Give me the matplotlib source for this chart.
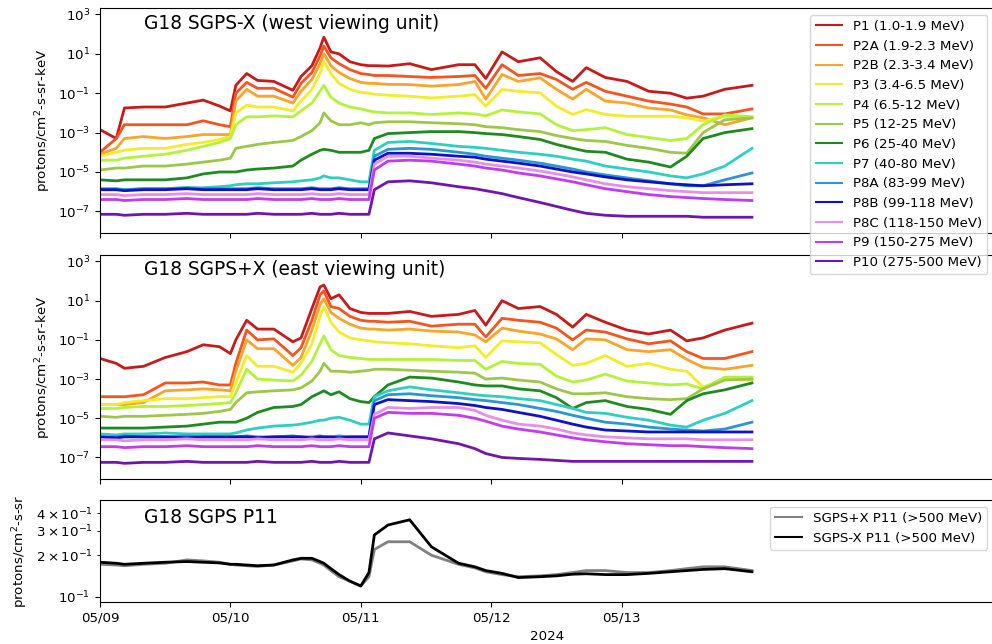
import matplotlib
matplotlib.use('Agg')
import matplotlib.pyplot as plt
import matplotlib.dates as mdates
from matplotlib.ticker import FixedLocator, FixedFormatter, NullLocator
import numpy as np
from datetime import datetime, timedelta

# sample times, hours after 2024-05-09 00:00
hours = [0, 3, 4.5, 8, 12, 16, 19, 22, 24,
         25, 27, 29, 32, 35.5, 37, 39, 40.5, 41.2, 42.5, 44, 46, 48, 49.5, 50.5, 53,
         57, 61, 66, 69, 71, 74, 77, 81, 84, 87, 89.5, 93, 97, 101, 105, 108, 111, 115, 120]

channels = ['P1 (1.0-1.9 MeV)', 'P2A (1.9-2.3 MeV)', 'P2B (2.3-3.4 MeV)', 'P3 (3.4-6.5 MeV)',
            'P4 (6.5-12 MeV)', 'P5 (12-25 MeV)', 'P6 (25-40 MeV)', 'P7 (40-80 MeV)',
            'P8A (83-99 MeV)', 'P8B (99-118 MeV)', 'P8C (118-150 MeV)', 'P9 (150-275 MeV)',
            'P10 (275-500 MeV)']
colors = ['#c81a1a', '#f5541e', '#fca32a', '#f2ec2a', '#b4f23a', '#9cc748', '#1f8a1f',
          '#2ecfc0', '#2a96d2', '#1010c8', '#e98ee6', '#c03cee', '#7015b0']

# log10 of flux, SGPS-X (west)
west_p1 = [-2.85, -3.3, -1.75, -1.7, -1.7, -1.5, -1.35, -1.65, -1.9,
           -0.6, 0.0, -0.35, -0.4, -0.85, -0.15, 0.4, 1.3, 1.85, 1.1, 1.0, 0.6, 0.45, 0.4, 0.4, 0.38,
           0.5, 0.2, 0.45, 0.45, -0.25, 1.1, 0.6, 0.8, 0.1, -0.4, 0.3, -0.2, -0.4, -0.9, -1.0, -1.25, -1.15, -0.8, -0.6]
west_p2a = [-4.0, -3.3, -2.6, -2.6, -2.6, -2.6, -2.4, -2.6, -2.7,
            -1.0, -0.45, -0.75, -0.75, -1.2, -0.5, 0.05, 0.9, 1.4, 0.8, 0.5, 0.2, 0.0, -0.05, -0.1, -0.1,
            -0.15, -0.2, -0.15, -0.1, -0.75, 0.45, -0.1, 0.0, -0.3, -0.8, -0.45, -0.9, -1.15, -1.4, -1.55, -1.7, -2.05, -2.05, -1.8]
west_p2b = [-4.1, -3.8, -3.3, -3.2, -3.3, -3.2, -3.1, -3.1, -3.1,
            -1.4, -0.8, -1.15, -1.15, -1.5, -0.9, -0.3, 0.5, 1.0, 0.4, 0.05, -0.25, -0.45, -0.5, -0.5, -0.55,
            -0.56, -0.64, -0.56, -0.4, -1.3, -0.05, -0.4, -0.22, -0.8, -1.3, -0.8, -1.4, -1.5, -1.75, -1.85, -2.1, -2.25, -2.6, -2.25]
west_p3 = [-4.2, -4.0, -3.9, -3.8, -3.8, -3.6, -3.5, -3.35, -3.2,
           -2.0, -1.6, -1.7, -1.7, -1.9, -1.4, -0.8, 0.0, 0.6, 0.0, -0.5, -0.8, -0.95, -1.0, -1.05, -1.1,
           -1.15, -1.24, -1.15, -1.07, -1.66, -0.81, -0.9, -0.98, -1.66, -2.08, -1.83, -2.08, -2.17, -2.17, -2.17, -2.25, -2.42, -2.17, -2.25]
west_p4 = [-4.4, -4.4, -4.3, -4.2, -4.1, -3.9, -3.7, -3.5, -3.3,
           -2.6, -2.2, -2.2, -2.15, -2.2, -1.9, -1.5, -0.9, -0.6, -1.2, -1.5, -1.7, -1.8, -1.9, -1.95, -2.0,
           -2.0, -2.08, -2.0, -2.05, -2.15, -1.85, -1.95, -2.05, -2.6, -2.9, -2.85, -2.75, -3.1, -3.25, -3.4, -3.3, -2.6, -2.1, -2.2]
west_p5 = [-4.9, -4.8, -4.8, -4.7, -4.7, -4.6, -4.5, -4.4, -4.3,
           -3.8, -3.7, -3.6, -3.5, -3.4, -3.2, -2.9, -2.5, -2.0, -2.4, -2.6, -2.6, -2.5, -2.6, -2.5, -2.45,
           -2.45, -2.5, -2.55, -2.6, -2.7, -2.75, -2.85, -2.95, -3.15, -3.3, -3.4, -3.45, -3.65, -3.8, -4.0, -4.05, -3.0, -2.35, -2.25]
west_p6 = [-5.4, -5.45, -5.4, -5.4, -5.4, -5.3, -5.1, -5.0, -5.0,
           -5.0, -4.9, -4.85, -4.8, -4.7, -4.4, -4.1, -3.9, -3.85, -3.9, -4.0, -4.0, -4.0, -3.9, -3.3, -3.05,
           -3.0, -2.95, -2.95, -3.0, -3.05, -3.1, -3.2, -3.35, -3.6, -3.8, -3.95, -4.0, -4.35, -4.5, -4.75, -4.2, -3.3, -3.0, -2.8]
west_p7 = [-5.9, -5.9, -5.9, -5.85, -5.85, -5.8, -5.8, -5.75, -5.7,
           -5.65, -5.6, -5.6, -5.55, -5.5, -5.45, -5.4, -5.3, -5.2, -5.3, -5.3, -5.4, -5.5, -5.5, -3.9, -3.5,
           -3.45, -3.55, -3.7, -3.75, -3.8, -3.9, -4.0, -4.1, -4.2, -4.35, -4.45, -4.7, -4.85, -5.0, -5.2, -5.3, -5.1, -4.7, -3.8]
west_p8a = [-5.85, -5.85, -5.9, -5.85, -5.85, -5.8, -5.85, -5.85, -5.85,
            -5.85, -5.85, -5.8, -5.85, -5.85, -5.85, -5.8, -5.85, -5.85, -5.85, -5.8, -5.85, -5.85, -5.85, -4.2, -3.85,
            -3.8, -3.85, -4.0, -4.1, -4.2, -4.3, -4.4, -4.55, -4.7, -4.85, -5.0, -5.15, -5.3, -5.45, -5.6, -5.7, -5.7, -5.4, -5.05]
west_p8b = [-5.9, -5.9, -5.95, -5.9, -5.9, -5.85, -5.9, -5.9, -5.9,
            -5.9, -5.9, -5.85, -5.9, -5.9, -5.9, -5.85, -5.9, -5.9, -5.9, -5.85, -5.9, -5.9, -5.9, -4.4, -4.05,
            -4.05, -4.1, -4.2, -4.25, -4.35, -4.45, -4.55, -4.7, -4.85, -5.0, -5.1, -5.25, -5.4, -5.5, -5.6, -5.65, -5.7, -5.65, -5.6]
west_p8c = [-6.15, -6.15, -6.2, -6.15, -6.15, -6.1, -6.15, -6.15, -6.15,
            -6.15, -6.15, -6.1, -6.15, -6.15, -6.15, -6.1, -6.15, -6.15, -6.15, -6.1, -6.15, -6.15, -6.15, -4.6, -4.2,
            -4.2, -4.3, -4.4, -4.5, -4.6, -4.7, -4.8, -4.95, -5.1, -5.25, -5.4, -5.6, -5.75, -5.85, -5.95, -6.0, -6.05, -6.05, -6.05]
west_p9 = [-6.4, -6.4, -6.45, -6.4, -6.4, -6.35, -6.4, -6.4, -6.4,
           -6.4, -6.4, -6.35, -6.4, -6.4, -6.4, -6.35, -6.4, -6.4, -6.4, -6.35, -6.4, -6.4, -6.4, -4.9, -4.45,
           -4.4, -4.45, -4.6, -4.7, -4.8, -4.9, -5.05, -5.2, -5.35, -5.5, -5.65, -5.85, -6.0, -6.15, -6.25, -6.3, -6.35, -6.4, -6.45]
west_p10 = [-7.15, -7.15, -7.2, -7.15, -7.15, -7.1, -7.15, -7.15, -7.15,
            -7.15, -7.15, -7.1, -7.15, -7.15, -7.15, -7.1, -7.15, -7.15, -7.15, -7.1, -7.15, -7.15, -7.15, -5.9, -5.5,
            -5.45, -5.55, -5.75, -5.85, -5.95, -6.1, -6.3, -6.55, -6.75, -6.95, -7.1, -7.2, -7.25, -7.25, -7.25, -7.25, -7.3, -7.3, -7.3]

# log10 of flux, SGPS+X (east)
east_p1 = [-1.95, -2.2, -2.45, -2.35, -1.9, -1.6, -1.25, -1.35, -1.7,
           -1.0, 0.0, -0.45, -0.45, -1.1, -0.9, 0.6, 1.7, 1.8, 1.1, 1.3, 0.6, 0.4, 0.35, 0.35, 0.35,
           0.45, 0.2, 0.3, 0.5, -0.25, 1.0, 0.6, 0.7, 0.3, -0.35, 0.3, -0.1, -0.5, -0.7, -0.5, -1.05, -0.9, -0.5, -0.15]
east_p2a = [-3.9, -3.9, -3.9, -3.8, -3.2, -3.2, -3.15, -3.3, -3.3,
            -2.2, -0.5, -1.0, -0.95, -1.8, -1.4, 0.0, 1.3, 1.5, 0.7, 0.6, 0.2, 0.0, -0.05, -0.05, -0.1,
            -0.05, -0.3, -0.2, -0.2, -0.85, 0.1, 0.0, -0.1, -0.4, -1.0, -0.5, -0.6, -0.95, -1.2, -1.05, -1.6, -1.95, -1.95, -1.6]
east_p2b = [-4.3, -4.3, -4.3, -4.2, -3.6, -3.55, -3.5, -3.55, -3.6,
            -2.6, -1.0, -1.45, -1.45, -2.3, -1.9, -0.5, 0.8, 1.1, 0.4, 0.1, -0.2, -0.4, -0.45, -0.45, -0.5,
            -0.45, -0.55, -0.6, -0.75, -1.1, -0.4, -0.55, -0.7, -0.95, -1.5, -0.95, -1.0, -1.5, -1.6, -1.5, -2.0, -2.4, -2.5, -2.3]
east_p3 = [-4.3, -4.3, -4.2, -4.1, -4.0, -4.0, -3.95, -3.9, -3.9,
           -3.2, -1.8, -2.35, -2.35, -2.65, -2.2, -1.2, 0.2, 0.7, -0.1, -0.6, -0.9, -1.0, -1.05, -1.1, -1.15,
           -1.2, -1.3, -1.4, -1.3, -1.9, -1.05, -1.1, -1.15, -1.75, -2.3, -2.2, -1.8, -2.35, -2.2, -2.5, -2.6, -3.4, -3.0, -3.05]
east_p4 = [-4.5, -4.5, -4.45, -4.4, -4.4, -4.35, -4.3, -4.25, -4.2,
           -3.7, -2.5, -3.0, -3.05, -3.1, -2.8, -2.1, -1.2, -0.8, -1.5, -1.8, -1.9, -1.95, -2.0, -2.0, -2.0,
           -2.0, -2.0, -2.05, -2.05, -2.5, -2.1, -2.2, -2.25, -2.85, -3.15, -3.05, -2.75, -3.1, -3.2, -3.3, -3.25, -3.5, -2.9, -2.9]
east_p5 = [-4.9, -4.95, -4.9, -4.9, -4.85, -4.8, -4.75, -4.65, -4.55,
           -4.2, -3.7, -3.65, -3.6, -3.55, -3.45, -3.1, -2.6, -2.2, -2.6, -2.6, -2.65, -2.6, -2.55, -2.5, -2.5,
           -2.55, -2.6, -2.65, -2.7, -3.0, -2.95, -3.05, -3.15, -3.5, -3.75, -3.75, -3.7, -3.9, -4.0, -4.05, -4.0, -3.5, -3.05, -3.0]
east_p6 = [-5.5, -5.5, -5.5, -5.5, -5.45, -5.4, -5.3, -5.2, -5.2,
           -5.2, -5.0, -4.7, -4.45, -4.4, -4.3, -3.9, -3.7, -3.6, -3.8, -3.65, -4.0, -4.15, -4.2, -3.9, -3.3,
           -2.9, -2.95, -3.15, -3.3, -3.35, -3.35, -3.5, -3.6, -3.95, -4.5, -4.2, -4.1, -4.4, -4.55, -4.8, -4.1, -3.75, -3.55, -3.2]
east_p7 = [-5.8, -5.85, -5.8, -5.8, -5.75, -5.8, -5.8, -5.8, -5.8,
           -5.75, -5.6, -5.5, -5.4, -5.35, -5.3, -5.2, -5.1, -5.1, -5.0, -4.95, -5.1, -5.3, -5.3, -3.9, -3.6,
           -3.4, -3.55, -3.7, -3.8, -3.85, -3.9, -4.0, -4.1, -4.3, -4.5, -4.7, -4.75, -4.95, -5.1, -5.35, -5.45, -5.1, -4.75, -4.1]
east_p8a = [-5.95, -5.95, -5.9, -5.95, -5.95, -5.9, -5.95, -5.95, -5.95,
            -5.95, -5.9, -5.95, -5.95, -5.9, -5.95, -5.95, -5.9, -5.95, -5.95, -5.9, -5.95, -5.95, -5.95, -4.1, -3.8,
            -3.75, -3.85, -3.95, -4.05, -4.1, -4.2, -4.3, -4.5, -4.65, -4.85, -5.0, -5.2, -5.3, -5.45, -5.55, -5.6, -5.65, -5.55, -5.2]
east_p8b = [-5.95, -6.0, -5.95, -5.95, -5.95, -6.0, -5.95, -5.95, -5.95,
            -5.95, -5.95, -6.0, -5.95, -5.95, -5.95, -6.0, -5.95, -5.95, -5.95, -6.0, -5.95, -5.95, -5.95, -4.3, -4.05,
            -4.1, -4.15, -4.25, -4.35, -4.45, -4.55, -4.7, -4.9, -5.1, -5.3, -5.45, -5.6, -5.65, -5.7, -5.7, -5.7, -5.7, -5.7, -5.7]
east_p8c = [-6.1, -6.1, -6.15, -6.1, -6.1, -6.05, -6.1, -6.1, -6.1,
            -6.1, -6.1, -6.05, -6.1, -6.1, -6.1, -6.05, -6.1, -6.1, -6.1, -6.05, -6.1, -6.1, -6.1, -4.8, -4.45,
            -4.5, -4.45, -4.45, -4.6, -4.85, -5.1, -5.3, -5.4, -5.55, -5.75, -5.85, -5.95, -6.0, -6.05, -6.05, -6.05, -6.1, -6.1, -6.1]
east_p9 = [-6.45, -6.45, -6.5, -6.45, -6.45, -6.4, -6.45, -6.45, -6.45,
           -6.45, -6.45, -6.4, -6.45, -6.45, -6.45, -6.4, -6.45, -6.45, -6.45, -6.4, -6.45, -6.45, -6.45, -5.0, -4.7,
           -4.75, -4.75, -4.85, -5.0, -5.15, -5.4, -5.55, -5.7, -5.85, -6.0, -6.1, -6.2, -6.3, -6.35, -6.4, -6.4, -6.45, -6.5, -6.55]
east_p10 = [-7.25, -7.25, -7.3, -7.25, -7.25, -7.2, -7.25, -7.25, -7.25,
            -7.25, -7.25, -7.2, -7.25, -7.25, -7.25, -7.2, -7.25, -7.25, -7.25, -7.2, -7.25, -7.25, -7.25, -6.05, -5.75,
            -5.9, -6.05, -6.3, -6.55, -6.8, -7.0, -7.05, -7.1, -7.15, -7.2, -7.2, -7.2, -7.2, -7.2, -7.2, -7.2, -7.2, -7.2, -7.2]

# P11 (>500 MeV), protons/cm2-s-sr
p11_plus = [0.172, 0.17, 0.168, 0.172, 0.175, 0.185, 0.182, 0.178, 0.172,
            0.17, 0.168, 0.166, 0.17, 0.182, 0.188, 0.185, 0.175, 0.17, 0.155, 0.14, 0.13, 0.12, 0.14, 0.22, 0.25,
            0.25, 0.2, 0.172, 0.162, 0.152, 0.145, 0.14, 0.142, 0.145, 0.15, 0.155, 0.155, 0.15, 0.15, 0.155, 0.16, 0.165, 0.165, 0.155]
p11_minus = [0.178, 0.175, 0.172, 0.175, 0.178, 0.18, 0.178, 0.176, 0.172,
             0.172, 0.17, 0.168, 0.17, 0.185, 0.19, 0.19, 0.18, 0.175, 0.16, 0.145, 0.13, 0.12, 0.15, 0.28, 0.33,
             0.36, 0.23, 0.175, 0.165, 0.155, 0.148, 0.138, 0.14, 0.142, 0.146, 0.147, 0.145, 0.145, 0.148, 0.152, 0.155, 0.158, 0.16, 0.152]

tick_days = ['05/09', '05/10', '05/11', '05/12', '05/13']

west = [west_p1, west_p2a, west_p2b, west_p3, west_p4, west_p5, west_p6, west_p7,
        west_p8a, west_p8b, west_p8c, west_p9, west_p10]
east = [east_p1, east_p2a, east_p2b, east_p3, east_p4, east_p5, east_p6, east_p7,
        east_p8a, east_p8b, east_p8c, east_p9, east_p10]

start = datetime(2024, 5, 9)
times = [start + timedelta(hours=h) for h in hours]

plt.rcParams['font.size'] = 9.6

fig = plt.figure(figsize=(9.92, 6.44), dpi=100)
ax1 = fig.add_axes([0.1008, 0.6382, 0.9012, 0.3494])
ax2 = fig.add_axes([0.1008, 0.2562, 0.9012, 0.3478], sharex=ax1)
ax3 = fig.add_axes([0.1008, 0.0652, 0.9012, 0.1584], sharex=ax1)
ax1.set_zorder(5)

for ax, series in ((ax1, west), (ax2, east)):
    for name, col, vals in zip(channels, colors, series):
        ax.plot(times, 10.0 ** np.array(vals), color=col, lw=2.0, label=name)
    ax.set_yscale('log')
    ax.set_ylim(10 ** -8.1, 10 ** 3.33)
    ax.yaxis.set_major_locator(FixedLocator([1e3, 1e1, 1e-1, 1e-3, 1e-5, 1e-7]))
    ax.yaxis.set_minor_locator(NullLocator())
    ax.set_ylabel('protons/cm$^2$-s-sr-keV')
    ax.tick_params(labelbottom=False)

ax1.text(0.049, 0.93, 'G18 SGPS-X (west viewing unit)', transform=ax1.transAxes,
         fontsize=13.4, va='center')
ax2.text(0.049, 0.935, 'G18 SGPS+X (east viewing unit)', transform=ax2.transAxes,
         fontsize=13.4, va='center')
leg = ax1.legend(loc='upper right', framealpha=0.8)
for line in leg.get_lines():
    line.set_linewidth(1.5)

ax3.plot(times, p11_plus, color='grey', lw=2.0, label='SGPS+X P11 (>500 MeV)')
ax3.plot(times, p11_minus, color='black', lw=2.0, label='SGPS-X P11 (>500 MeV)')
ax3.set_yscale('log')
ax3.set_ylim(0.092, 0.5)
ax3.yaxis.set_major_locator(FixedLocator([0.1]))
ax3.yaxis.set_minor_locator(FixedLocator([0.2, 0.3, 0.4]))
ax3.yaxis.set_minor_formatter(FixedFormatter([r'$2\times10^{-1}$', r'$3\times10^{-1}$', r'$4\times10^{-1}$']))
ax3.set_ylabel('protons/cm$^2$-s-sr')
ax3.text(0.049, 0.83, 'G18 SGPS P11', transform=ax3.transAxes, fontsize=13.4, va='center')
leg3 = ax3.legend(loc='upper right')
for line in leg3.get_lines():
    line.set_linewidth(1.5)

tick_dates = [datetime.strptime('2024/' + d, '%Y/%m/%d') for d in tick_days]
ax3.xaxis.set_major_locator(FixedLocator(mdates.date2num(tick_dates)))
ax3.xaxis.set_major_formatter(FixedFormatter(tick_days))
ax3.set_xlim(start, start + timedelta(days=6.856))
ax3.set_xlabel('2024')

fig.savefig('out.png', dpi=100)
